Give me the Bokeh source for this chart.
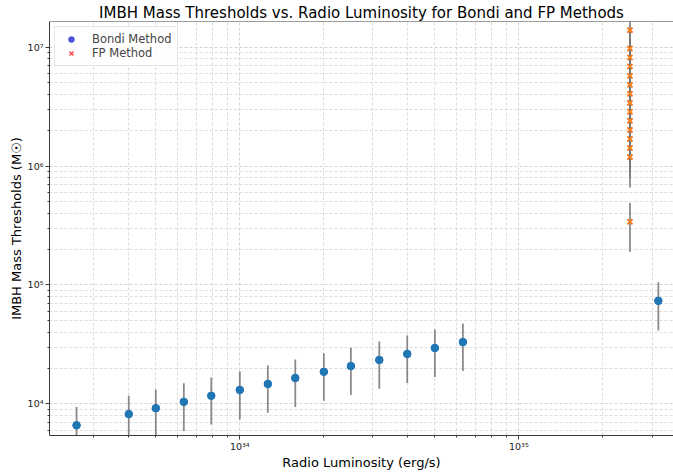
import numpy as np
from bokeh.plotting import figure
from bokeh.models import (Range1d, FixedTicker, CustomJSTickFormatter, Span,
                          ColumnDataSource)
from bokeh.embed import file_html
from bokeh.resources import INLINE

# ---------------- data ----------------
bondi_L = [2.6e33, 4.0e33, 5.0e33, 6.3e33, 7.9e33, 1.0e34, 1.26e34, 1.58e34,
           2.0e34, 2.5e34, 3.16e34, 3.98e34, 5.0e34, 6.3e34, 3.16e35]
bondi_M = [6.6e3, 8.2e3, 9.2e3, 1.04e4, 1.17e4, 1.31e4, 1.47e4, 1.65e4,
           1.86e4, 2.08e4, 2.34e4, 2.63e4, 2.95e4, 3.31e4, 7.35e4]
bondi_err = [2.8e3, 3.5e3, 4.0e3, 4.5e3, 5.0e3, 5.7e3, 6.3e3, 7.1e3,
             8.0e3, 8.9e3, 1.0e4, 1.13e4, 1.27e4, 1.42e4, 3.2e4]

fp_L = [2.5e35] * 15
fp_M = [1.39e7, 9.75e6, 8.19e6, 6.88e6, 5.74e6, 4.82e6, 4.05e6, 3.40e6,
        2.86e6, 2.40e6, 2.01e6, 1.69e6, 1.42e6, 1.19e6, 3.4e5]
fp_err = [6.1e6, 4.3e6, 3.6e6, 3.0e6, 2.5e6, 2.1e6, 1.8e6, 1.5e6,
          1.26e6, 1.06e6, 8.8e5, 7.4e5, 6.2e5, 5.3e5, 1.5e5]

x_ticks = [1e34, 1e35]
y_ticks = [1e4, 1e5, 1e6, 1e7]

title_text = "IMBH Mass Thresholds vs. Radio Luminosity for Bondi and FP Methods"
xlabel_text = "Radio Luminosity (erg/s)"
ylabel_text = "IMBH Mass Thresholds (M\u2609)"

# ---------------- sources ----------------
bm = np.array(bondi_M); be = np.array(bondi_err)
fm = np.array(fp_M); fe = np.array(fp_err)
bsrc = ColumnDataSource(dict(x=bondi_L, y=bondi_M,
                             lo=np.maximum(bm - be, 1.0), hi=bm + be))
fsrc = ColumnDataSource(dict(x=fp_L, y=fp_M,
                             lo=np.maximum(fm - fe, 1.0), hi=fm + fe))

FONT = "DejaVu Sans"
x0, x1 = 10 ** 33.318, 10 ** 35.554
y0, y1 = 10 ** 3.734, 10 ** 7.2156

p = figure(width=673, height=472, x_axis_type="log", y_axis_type="log",
           x_range=Range1d(x0, x1), y_range=Range1d(y0, y1),
           output_backend="svg", toolbar_location=None,
           title=title_text,
           min_border_left=49, min_border_right=0, min_border_top=21,
           min_border_bottom=36)

p.outline_line_color = None
p.background_fill_color = "white"
p.border_fill_color = "white"

# title
p.title.text_font = FONT
p.title.text_font_size = "15px"
p.title.text_font_style = "normal"
p.title.align = "center"
p.title.text_color = "#000000"
p.title.standoff = 0

# ticks
minor_x = [m * 10.0 ** e for e in range(33, 36) for m in range(2, 10)]
minor_y = [m * 10.0 ** e for e in range(3, 8) for m in range(2, 10)]
xt = FixedTicker(ticks=x_ticks, minor_ticks=minor_x)
yt = FixedTicker(ticks=y_ticks, minor_ticks=minor_y)
p.xaxis.ticker = xt
p.yaxis.ticker = yt
p.xgrid.ticker = xt
p.ygrid.ticker = yt

fmt_code = """
const e = Math.round(Math.log10(tick));
const sup = {'0':'\u2070','1':'\u00b9','2':'\u00b2','3':'\u00b3','4':'\u2074',
             '5':'\u2075','6':'\u2076','7':'\u2077','8':'\u2078','9':'\u2079','-':'\u207b'};
return '10' + String(e).split('').map(c => sup[c]).join('');
"""
p.xaxis.formatter = CustomJSTickFormatter(code=fmt_code)
p.yaxis.formatter = CustomJSTickFormatter(code=fmt_code)

for ax in (p.xaxis, p.yaxis):
    ax.axis_line_color = "#3a3a3a"
    ax.axis_line_width = 1
    ax.major_tick_line_color = "#3a3a3a"
    ax.minor_tick_line_color = "#3a3a3a"
    ax.major_tick_out = 4
    ax.major_tick_in = 0
    ax.minor_tick_out = 2
    ax.minor_tick_in = 0
    ax.major_label_text_font = FONT
    ax.major_label_text_font_size = "9.5px"
    ax.major_label_text_color = "#222222"
    ax.major_label_standoff = 1
    ax.axis_label_text_font = FONT
    ax.axis_label_text_font_size = "13px"
    ax.axis_label_text_font_style = "normal"
    ax.axis_label_text_color = "#000000"
    ax.axis_label_standoff = 0

p.yaxis.major_label_standoff = 2
p.yaxis.axis_label_standoff = 1
p.xaxis.axis_label = xlabel_text
p.yaxis.axis_label = ylabel_text

for g in (p.xgrid, p.ygrid):
    g.grid_line_color = "#c8c8c8"
    g.grid_line_dash = "3 2"
    g.grid_line_width = 0.8
    g.minor_grid_line_color = "#d4d4d4"
    g.minor_grid_line_dash = "3 2"
    g.minor_grid_line_width = 0.8

# top spine
p.add_layout(Span(location=y1, dimension="width", line_color="#3a3a3a",
                  line_width=1))

# legend glyphs (underlying scatter)
p.scatter("x", "y", source=bsrc, marker="circle", size=7, color="#3535d8",
          alpha=0.85, legend_label="Bondi Method")
p.scatter("x", "y", source=fsrc, marker="x", size=7, color="red",
          alpha=0.7, line_width=1.5, legend_label="FP Method")

# error bars
p.segment(x0="x", y0="lo", x1="x", y1="hi", source=bsrc,
          line_color="#777777", line_width=1.8, line_alpha=0.85)
p.segment(x0="x", y0="lo", x1="x", y1="hi", source=fsrc,
          line_color="#777777", line_width=1.8, line_alpha=0.85)

# markers on top
p.scatter("x", "y", source=bsrc, marker="circle", size=7.5,
          fill_color="#1f77b4", line_color="#1f77b4")
p.scatter("x", "y", source=fsrc, marker="x", size=7,
          line_color="#ff7f0e", line_width=1.6)

# legend
lg = p.legend[0]
lg.location = "top_left"
lg.margin = 5
lg.padding = 5
lg.spacing = 0
lg.glyph_width = 22
lg.glyph_height = 14
lg.label_height = 14
lg.label_standoff = 10
lg.label_text_font = FONT
lg.label_text_font_size = "11.5px"
lg.border_line_color = "#cccccc"
lg.border_line_width = 1
lg.background_fill_alpha = 0.85

open("out.html", "w").write(file_html(p, INLINE))
